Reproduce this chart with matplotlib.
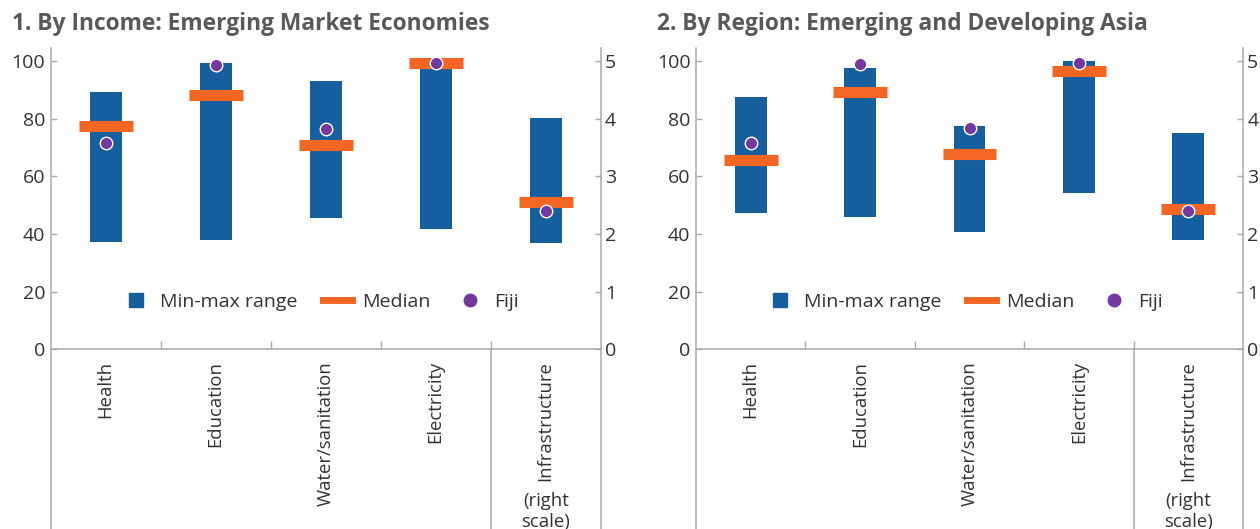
import matplotlib.pyplot as plt
from matplotlib.lines import Line2D
from matplotlib.transforms import blended_transform_factory

plt.rcParams['font.family'] = ['Open Sans', 'DejaVu Sans']

# Categories (last one is on the right scale)
categories = ["Health", "Education", "Water/sanitation", "Electricity"]
right_category = "Infrastructure"

# Panel 1: By income, emerging market economies
p1_min = [37.3, 38.0, 45.6, 41.8]
p1_max = [89.2, 99.3, 93.1, 100.0]
p1_median = [77.3, 88.4, 70.7, 99.5]
p1_fiji = [71.4, 98.6, 76.5, 99.4]
p1_infra = {"min": 1.85, "max": 4.01, "median": 2.56, "fiji": 2.40}

# Panel 2: By region, emerging and developing Asia
p2_min = [47.3, 45.9, 40.7, 54.3]
p2_max = [87.5, 97.6, 77.4, 100.0]
p2_median = [65.8, 89.4, 67.9, 96.4]
p2_fiji = [71.5, 99.0, 76.8, 99.5]
p2_infra = {"min": 1.90, "max": 3.75, "median": 2.44, "fiji": 2.40}

BLUE = "#155F9E"
ORANGE = "#F26522"
PURPLE = "#7339A0"
GRID = "#AAAAAA"
TEXT = "#333333"
TITLE = "#58595B"

fig = plt.figure(figsize=(12.6, 5.29), dpi=100)


def draw_panel(rect, title, mins, maxs, medians, fiji, infra):
    ax = fig.add_axes(rect)
    ax2 = ax.twinx()
    xs = list(range(1, len(categories) + 1))
    xi = len(categories) + 1

    ax.bar(xs, [b - a for a, b in zip(mins, maxs)], bottom=mins,
           width=0.29, color=BLUE, zorder=2)
    ax.hlines(medians, [x - 0.245 for x in xs], [x + 0.245 for x in xs],
              color=ORANGE, lw=8, zorder=3)
    ax.plot(xs, fiji, "o", ms=9, color=PURPLE, mec="white", mew=1, zorder=4)

    ax2.bar([xi], [infra["max"] - infra["min"]], bottom=[infra["min"]],
            width=0.29, color=BLUE, zorder=2)
    ax2.hlines([infra["median"]], [xi - 0.245], [xi + 0.245],
               color=ORANGE, lw=8, zorder=3)
    ax2.plot([xi], [infra["fiji"]], "o", ms=9, color=PURPLE, mec="white",
             mew=1, zorder=4)

    ax.set_xlim(0.5, xi + 0.5)
    ax.set_ylim(0, 104.5)
    ax2.set_ylim(0, 5.225)
    ax.set_yticks([0, 20, 40, 60, 80, 100])
    ax2.set_yticks([0, 1, 2, 3, 4, 5])
    ax.set_xticks([1.5, 2.5, 3.5, 4.5])
    ax.set_xticklabels([])

    for a in (ax, ax2):
        for s in a.spines.values():
            s.set_color(GRID)
            s.set_linewidth(1.1)
        a.spines["top"].set_visible(False)
    ax.spines["right"].set_visible(False)
    ax2.spines["left"].set_visible(False)
    ax2.spines["bottom"].set_visible(False)

    ax.tick_params(axis="y", direction="in", length=4.5, width=1, color=GRID,
                   labelsize=14, labelcolor=TEXT, pad=4)
    ax2.tick_params(axis="y", direction="in", length=4.5, width=1, color=GRID,
                    labelsize=14, labelcolor=TEXT, pad=3)
    ax.tick_params(axis="x", direction="in", length=6, width=1, color=GRID)

    # vertical lines running down through the category label area
    tr = blended_transform_factory(ax.transData, ax.transAxes)
    for xv in (0.5, 4.5, xi + 0.5):
        ax.add_line(Line2D([xv, xv], [0, -0.62], transform=tr, color=GRID,
                           lw=1.1, clip_on=False))

    for x, lab in zip(xs, categories):
        ax.text(x, -0.04, lab, transform=tr, rotation=90, ha="center",
                va="top", fontsize=13.3, color=TEXT)
    ax.text(xi, -0.04, right_category, transform=tr, rotation=90,
            ha="center", va="top", fontsize=13.3, color=TEXT)
    ax.text(xi, -0.475, "(right\nscale)", transform=tr, ha="center",
            va="top", fontsize=13.3, color=TEXT, linespacing=1.2)

    handles = [
        Line2D([], [], marker="s", ls="none", ms=10, color=BLUE),
        Line2D([], [], color=ORANGE, lw=5),
        Line2D([], [], marker="o", ls="none", ms=9, color=PURPLE),
    ]
    ax.legend(handles, ["Min-max range", "Median", "Fiji"], ncol=3,
              loc="center", bbox_to_anchor=(0.49, 0.156), frameon=False,
              fontsize=14, labelcolor=TEXT, handlelength=1.5,
              handletextpad=0.5, columnspacing=1.3)

    fig.text(rect[0] - 0.031, 0.978, title, fontsize=16.4, fontweight="bold",
             color=TITLE, ha="left", va="top")


draw_panel([0.0402, 0.340, 0.4365, 0.569],
           "1. By Income: Emerging Market Economies",
           p1_min, p1_max, p1_median, p1_fiji, p1_infra)
draw_panel([0.5524, 0.340, 0.4341, 0.569],
           "2. By Region: Emerging and Developing Asia",
           p2_min, p2_max, p2_median, p2_fiji, p2_infra)

fig.savefig("out.png", dpi=100)
